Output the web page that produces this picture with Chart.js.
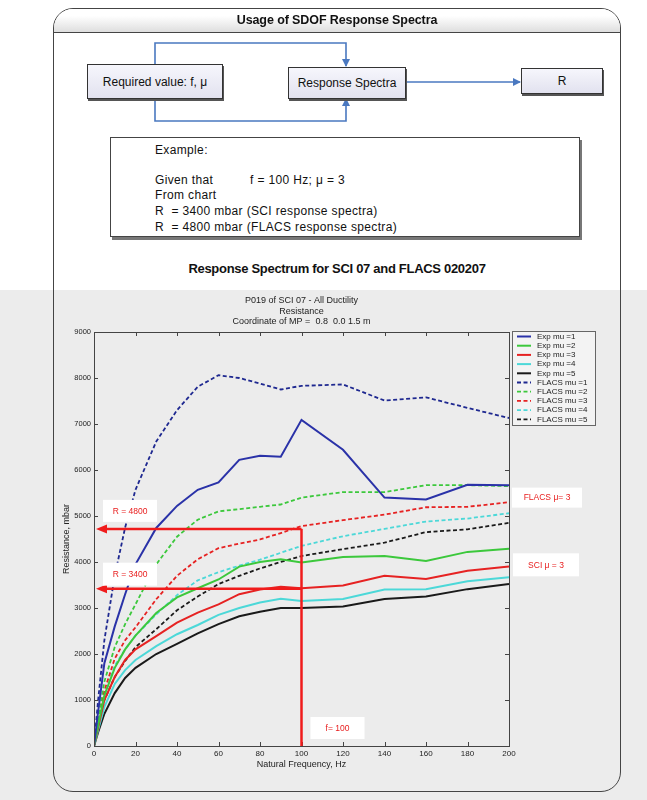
<!DOCTYPE html>
<html>
<head>
<meta charset="utf-8">
<script src="https://cdn.jsdelivr.net/npm/chart.js@4.4.1/dist/chart.umd.min.js"></script>
<style>
    body { margin: 0; width: 647px; height: 800px; position: relative; overflow: hidden; background: #fff; font-family: "Liberation Sans", Arial, sans-serif; color: #111; }
    #lower { position: absolute; left: 0; top: 290px; width: 647px; height: 510px; background: #ececec; }
    #frame { position: absolute; left: 53px; top: 8px; width: 566px; height: 782px; border: 1.5px solid #444; border-radius: 20px; }
    #head { position: absolute; left: 0; top: 0; width: 566px; height: 23px; border-bottom: 1px solid #444; border-radius: 19px 19px 0 0;
        background: linear-gradient(#ffffff 30%, #dedede); text-align: center; font-weight: bold; font-size: 12.5px; line-height: 22px; letter-spacing: -0.1px; }
    .box { position: absolute; border: 1px solid #333; box-shadow: 1px 2px 0 #555; background: linear-gradient(#f6f6fc, #e2e2ef);
        display: flex; align-items: center; justify-content: center; font-size: 12px; }
    #example { position: absolute; left: 110px; top: 137px; width: 468px; height: 98px; border: 1px solid #444; box-shadow: 2px 3px 0 #777; background: #fff; font-size: 12px; letter-spacing: 0.35px; }
    #example div { position: absolute; left: 44px; white-space: pre; }
    #subtitle { position: absolute; left: 0; width: 674px; top: 261px; text-align: center; font-weight: bold; font-size: 13px; letter-spacing: -0.3px; }
    #chart { position: absolute; left: 54px; top: 290px; }
    svg { position: absolute; left: 0; top: 0; }
</style>
</head>
<body>
<div id="lower"></div>

<svg width="647" height="140">
    <defs>
        <marker id="ah" markerWidth="8" markerHeight="8" refX="7" refY="4" orient="auto" markerUnits="userSpaceOnUse">
            <path d="M0,0 L8,4 L0,8 z" fill="#4a78c0"/>
        </marker>
    </defs>
    <g fill="none" stroke="#4a78c0" stroke-width="1.6">
        <polyline points="155,64 155,43 346,43 346,66" marker-end="url(#ah)"/>
        <polyline points="155,98 155,121 346,121 346,99" marker-end="url(#ah)"/>
        <line x1="405" y1="82" x2="520" y2="82" marker-end="url(#ah)"/>
    </g>
</svg>

<div class="box" style="left:87px;top:64px;width:134px;height:33px;">Required value: f, μ</div>
<div class="box" style="left:288px;top:67px;width:116px;height:30px;">Response Spectra</div>
<div class="box" style="left:521px;top:68px;width:80px;height:24px;">R</div>

<div id="example">
    <div style="top:5px;">Example:</div>
    <div style="top:35px;">Given that          f = 100 Hz; μ = 3</div>
    <div style="top:50px;">From chart</div>
    <div style="top:66px;">R  = 3400 mbar (SCI response spectra)</div>
    <div style="top:82px;">R  = 4800 mbar (FLACS response spectra)</div>
</div>

<div id="subtitle">Response Spectrum for SCI 07 and FLACS 020207</div>

<canvas id="chart" width="566" height="500"></canvas>

<div id="frame"><div id="head">Usage of SDOF Response Spectra</div></div>

<script>
// frequencias (Hz)
const freqs = [0, 2, 5, 10, 15, 20, 30, 40, 50, 60, 70, 80, 90, 100, 120, 140, 160, 180, 200];

// Exp (SCI) - resistencia em mbar
const expMu1 = [0, 750, 1800, 2600, 3300, 3950, 4740, 5220, 5570, 5730, 6220, 6310, 6290, 7090, 6440, 5400, 5360, 5680, 5670];
const expMu2 = [0, 450, 1100, 1700, 2100, 2400, 2890, 3230, 3430, 3620, 3900, 4000, 4060, 3990, 4110, 4130, 4020, 4220, 4290];
const expMu3 = [0, 400, 1000, 1500, 1870, 2100, 2390, 2680, 2900, 3080, 3300, 3400, 3460, 3430, 3490, 3700, 3630, 3810, 3900];
const expMu4 = [0, 350, 850, 1350, 1650, 1870, 2170, 2430, 2630, 2850, 3000, 3120, 3200, 3150, 3195, 3400, 3410, 3580, 3670];
const expMu5 = [0, 300, 700, 1150, 1480, 1700, 2000, 2220, 2450, 2650, 2820, 2920, 3000, 3000, 3035, 3195, 3250, 3410, 3520];

// FLACS
const flacsMu1 = [0, 1000, 2300, 3700, 4750, 5570, 6620, 7300, 7810, 8060, 8000, 7880, 7750, 7830, 7860, 7510, 7580, 7350, 7130];
const flacsMu2 = [0, 600, 1400, 2150, 2650, 3080, 3950, 4550, 4920, 5100, 5150, 5200, 5250, 5400, 5520, 5520, 5670, 5670, 5650];
const flacsMu3 = [0, 500, 1200, 1900, 2300, 2580, 3190, 3700, 4060, 4300, 4400, 4490, 4630, 4780, 4910, 5030, 5190, 5200, 5300];
const flacsMu4 = [0, 450, 1100, 1750, 2100, 2400, 2860, 3280, 3600, 3780, 3920, 4050, 4200, 4350, 4560, 4720, 4880, 4945, 5060];
const flacsMu5 = [0, 400, 1000, 1500, 1850, 2150, 2540, 2950, 3250, 3520, 3700, 3860, 4000, 4130, 4280, 4420, 4650, 4710, 4850];

const seriesLabels = ['Exp mu =1', 'Exp mu =2', 'Exp mu =3', 'Exp mu =4', 'Exp mu =5',
    'FLACS mu =1', 'FLACS mu =2', 'FLACS mu =3', 'FLACS mu =4', 'FLACS mu =5'];
const seriesValues = [expMu1, expMu2, expMu3, expMu4, expMu5, flacsMu1, flacsMu2, flacsMu3, flacsMu4, flacsMu5];
const colors = ['#2a32a8', '#3cc83c', '#e62222', '#4cd8d8', '#1a1a1a'];

// exemplo de leitura
const markerFreq = 100;
const markerLevels = [4720, 3420];
const markerTexts = ['R = 4800', 'R = 3400'];
const freqText = 'f= 100';
const sideTexts = ['FLACS μ= 3', 'SCI μ = 3'];
const sideLevels = [5400, 3950];

const titleLines = ['P019 of SCI 07 - All Ductility', 'Resistance', 'Coordinate of MP =  0.8  0.0 1.5 m'];
const fontName = '"Liberation Sans", Arial, sans-serif';

var datasets = [];
for (var i = 0; i < seriesValues.length; i++) {
    var dashed = i >= 5;
    datasets.push({
        label: seriesLabels[i],
        data: freqs.map(function (f, k) { return { x: f, y: seriesValues[i][k] }; }),
        borderColor: dashed ? (i == 5 ? '#1e2890' : colors[i - 5]) : colors[i],
        borderWidth: dashed ? 1.8 : 2,
        borderDash: dashed ? [4, 2.5] : [],
        pointRadius: 0,
        tension: 0,
        fill: false
    });
}

function labelBox(ctx, text, x, y, w, h) {
    ctx.setLineDash([]);
    ctx.fillStyle = '#ffffff';
    ctx.fillRect(x, y, w, h);
    ctx.fillStyle = '#e81c1c';
    ctx.font = '8.5px ' + fontName;
    ctx.textAlign = 'center';
    ctx.textBaseline = 'middle';
    ctx.fillText(text, x + w / 2, y + h / 2 + 0.5);
}

const decor = {
    id: 'decor',
    afterDraw(chart) {
        const ctx = chart.ctx, a = chart.chartArea;
        const xs = chart.scales.x, ys = chart.scales.y;
        ctx.save();

        // moldura e ticks internos (estilo matlab)
        ctx.strokeStyle = '#444';
        ctx.lineWidth = 1;
        ctx.setLineDash([]);
        ctx.strokeRect(a.left + 0.5, a.top + 0.5, a.right - a.left, a.bottom - a.top);
        ctx.beginPath();
        xs.ticks.forEach(function (t) {
            var px = Math.round(xs.getPixelForValue(t.value)) + 0.5;
            ctx.moveTo(px, a.bottom); ctx.lineTo(px, a.bottom - 4);
            ctx.moveTo(px, a.top); ctx.lineTo(px, a.top + 4);
        });
        ys.ticks.forEach(function (t) {
            var py = Math.round(ys.getPixelForValue(t.value)) + 0.5;
            ctx.moveTo(a.left, py); ctx.lineTo(a.left + 4, py);
            ctx.moveTo(a.right, py); ctx.lineTo(a.right - 4, py);
        });
        ctx.stroke();

        // setas vermelhas
        ctx.strokeStyle = '#f01c1c';
        ctx.fillStyle = '#f01c1c';
        ctx.lineWidth = 2.5;
        var vx = xs.getPixelForValue(markerFreq);
        ctx.beginPath();
        ctx.moveTo(vx, ys.getPixelForValue(0));
        ctx.lineTo(vx, ys.getPixelForValue(markerLevels[0]));
        ctx.stroke();
        markerLevels.forEach(function (v) {
            var py = ys.getPixelForValue(v);
            var tip = a.left + 2;
            ctx.beginPath(); ctx.moveTo(vx, py); ctx.lineTo(tip + 8, py); ctx.stroke();
            ctx.beginPath(); ctx.moveTo(tip, py); ctx.lineTo(tip + 11, py - 4.5); ctx.lineTo(tip + 11, py + 4.5); ctx.closePath(); ctx.fill();
        });

        labelBox(ctx, markerTexts[0], a.left + 9, ys.getPixelForValue(markerLevels[0]) - 29, 54, 22);
        labelBox(ctx, markerTexts[1], a.left + 9, ys.getPixelForValue(markerLevels[1]) - 26, 54, 23);
        labelBox(ctx, freqText, vx + 9, a.bottom - 29, 54, 22);
        labelBox(ctx, sideTexts[0], a.right + 3, ys.getPixelForValue(sideLevels[0]) - 10, 70, 20);
        labelBox(ctx, sideTexts[1], a.right + 4, ys.getPixelForValue(sideLevels[1]) - 11, 66, 23);

        // legenda
        var lx = a.right + 3, ly = a.top - 1, lw = 83, lh = 94;
        ctx.fillStyle = '#f3f3f3';
        ctx.fillRect(lx, ly, lw, lh);
        ctx.strokeStyle = '#666';
        ctx.lineWidth = 1;
        ctx.strokeRect(lx + 0.5, ly + 0.5, lw, lh);
        ctx.font = '8px ' + fontName;
        ctx.textAlign = 'left';
        ctx.textBaseline = 'middle';
        chart.data.datasets.forEach(function (ds, i) {
            var y = ly + 5.5 + i * 9.2;
            ctx.strokeStyle = ds.borderColor;
            ctx.lineWidth = ds.borderWidth;
            ctx.setLineDash(ds.borderDash);
            ctx.beginPath(); ctx.moveTo(lx + 5, y); ctx.lineTo(lx + 19, y); ctx.stroke();
            ctx.fillStyle = '#222';
            ctx.fillText(ds.label, lx + 25, y);
        });

        // titulo
        ctx.fillStyle = '#222';
        ctx.font = '9px ' + fontName;
        ctx.textAlign = 'center';
        var cx = (a.left + a.right) / 2;
        titleLines.forEach(function (t, i) {
            ctx.fillText(t, cx, a.top - 31 + i * 10.5);
        });
        ctx.restore();
    }
};

new Chart(document.getElementById('chart'), {
    type: 'line',
    data: { datasets: datasets },
    plugins: [decor],
    options: {
        responsive: false,
        animation: false,
        layout: { padding: { left: 0, top: 42, right: 111, bottom: 20 } },
        plugins: { legend: { display: false }, tooltip: { enabled: false } },
        scales: {
            x: {
                type: 'linear', min: 0, max: 200,
                afterFit: function (scale) { scale.height = 24; },
                ticks: { stepSize: 20, padding: 3, color: '#222', font: { size: 8, family: fontName },
                    callback: function (v) { return String(v); } },
                grid: { display: true, drawOnChartArea: false, drawTicks: false },
                border: { display: false },
                title: { display: true, text: 'Natural Frequency, Hz', color: '#222', padding: { top: 0, bottom: 0 }, font: { size: 9, family: fontName } }
            },
            y: {
                min: 0, max: 9000,
                afterFit: function (scale) { scale.width = 40; },
                ticks: { stepSize: 1000, padding: 3, color: '#222', font: { size: 7.5, family: fontName },
                    callback: function (v) { return String(v); } },
                grid: { display: true, drawOnChartArea: false, drawTicks: false },
                border: { display: false },
                title: { display: true, text: 'Resistance, mbar', color: '#222', padding: { top: 7, bottom: 0 }, font: { size: 9, family: fontName } }
            }
        }
    }
});
</script>
</body>
</html>
